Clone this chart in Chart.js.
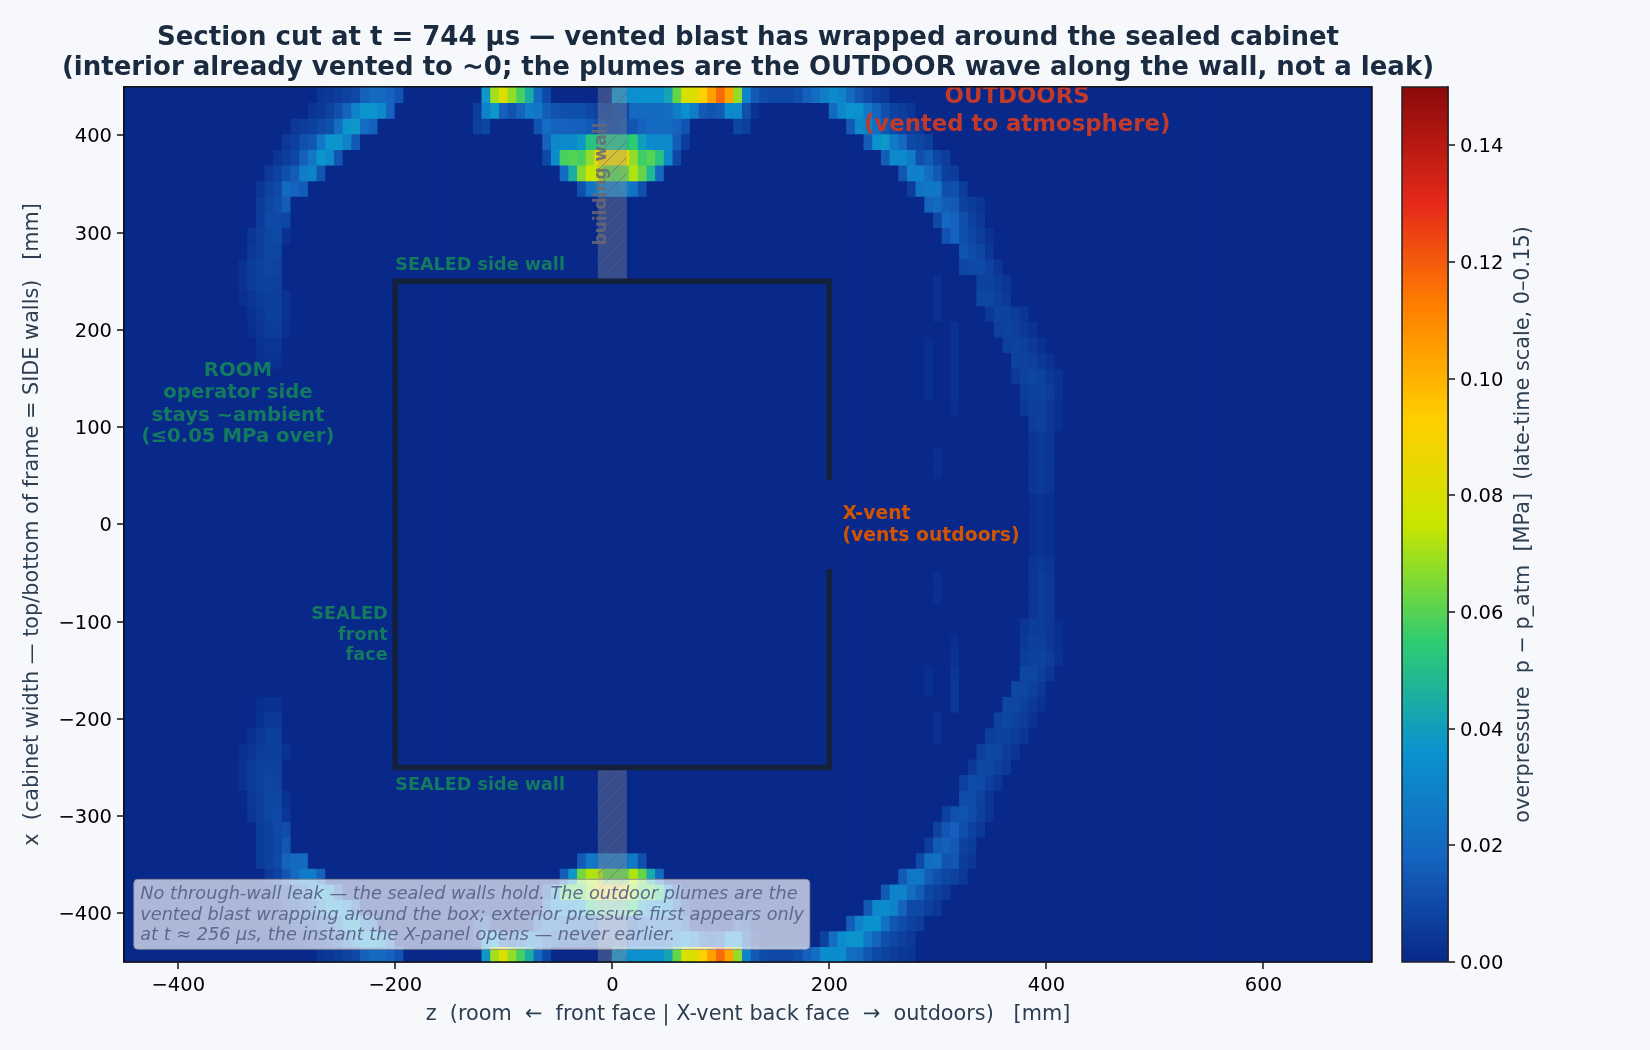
<!DOCTYPE html>
<html>
<head>
<meta charset="utf-8">
<title>Section cut at t = 744 µs</title>
<script src="https://cdn.jsdelivr.net/npm/chart.js@4"></script>
<style>
    html, body { margin: 0; padding: 0; background: #f6f8fc; }
    canvas { position: absolute; left: 0; top: 0; }
</style>
</head>
<body>
<canvas id="heatChart" width="1650" height="1050"></canvas>
<canvas id="barChart" width="1650" height="1050"></canvas>
<script>
// overpressure, in 0.001 MPa, one list per row from the top of the frame
// each part of a row is [first column, values...]; a column is 8 mm wide and column k starts at z = 8k
const row00 = [[-34, 4, 5, 6, 8, 10, 17, 20, 20, 18, 13], [-15, 38, 70, 82, 68, 58, 45, 20, 10], [0, 35, 35, 35, 36, 36, 36, 42, 62, 80, 82, 92, 105, 117, 104, 68, 30, 15, 11, 10, 10, 10, 12, 17, 22, 28, 33, 30, 20, 14, 10, 6, 5]];
const row01 = [[-35, 4, 5, 8, 12, 18, 30, 37, 37, 33, 18], [-16, 6, 30, 38, 17, 13, 18, 27, 25, 16, 13, 12, 12, 12, 9, 8, 8, 10, 10, 20, 20, 20, 20, 22, 28, 35, 28, 15, 13, 15, 33, 33, 12, 3], [25, 20, 32, 37, 36, 26, 18, 12, 8, 6, 4]];
const row02 = [[-37, 5, 6, 8, 10, 12, 22, 37, 38, 22, 18], [-16, 7, 9], [-9, 13, 22, 18, 18, 17, 17, 15, 11, 10, 10, 12, 14, 18, 20, 20, 20, 18, 13], [14, 9, 7], [27, 15, 32, 30, 22, 14, 10, 7, 6, 5]];
const row03 = [[-38, 5, 7, 12, 14, 26, 37, 37, 30, 15], [-8, 18, 32, 33, 33, 38, 52, 52, 50, 50, 50, 55, 40, 33, 33, 33, 16, 6], [29, 16, 36, 38, 27, 20, 10, 9, 7]];
const row04 = [[-39, 4, 6, 9, 17, 26, 37, 33, 14], [-8, 10, 34, 58, 60, 58, 68, 88, 90, 88, 88, 68, 57, 60, 52, 32, 10], [31, 16, 32, 33, 27, 12, 15, 9, 6]];
const row05 = [[-40, 5, 8, 12, 16, 28, 30, 14], [-6, 20, 45, 66, 76, 74, 62, 60, 62, 72, 62, 48, 20], [33, 14, 29, 29, 22, 15, 7, 6]];
const row06 = [[-41, 4, 8, 10, 20, 18, 16], [-4, 12, 24, 28, 26, 26, 28, 24, 12], [34, 6, 24, 25, 25, 12, 12, 6]];
const row07 = [[-41, 6, 9, 11, 16], [36, 18, 20, 16, 15, 8, 6, 4]];
const row08 = [[-41, 6, 10, 10, 9], [37, 10, 20, 18, 12, 8, 5]];
const row09 = [[-42, 4, 7, 9, 10, 3], [38, 13, 18, 12, 9, 6, 3]];
const row10 = [[-42, 5, 7, 9, 9], [40, 13, 11, 9, 4]];
const row11 = [[-43, 3, 6, 8, 9, 8], [40, 9, 10, 10, 8, 4]];
const row12 = [[-43, 3, 6, 8, 8, 7], [37, 3], [42, 8, 8, 6, 4]];
const row13 = [[-43, 2, 4, 6, 7, 7, 3], [37, 3], [42, 9, 9, 7, 5]];
const row14 = [[-42, 3, 5, 7, 7, 3], [37, 3], [43, 5, 8, 8, 6, 4]];
const row15 = [[-42, 2, 4, 6, 6, 2], [39, 3], [44, 7, 8, 7, 5, 3]];
const row16 = [[-41, 3, 4, 4], [36, 2], [39, 3], [45, 7, 8, 7, 5, 3]];
const row17 = [[-41, 2, 3, 3], [36, 2], [39, 3], [46, 8, 8, 7, 5, 3]];
const row18 = [[36, 2], [39, 3], [46, 5, 8, 9, 8, 5, 3]];
const row19 = [[36, 2], [39, 3], [47, 6, 8, 8, 6, 3]];
const row20 = [[39, 2], [47, 5, 7, 7, 5, 2]];
const row21 = [[48, 6, 7, 5, 2]];
const row22 = [[48, 4, 5, 4]];
const row23 = [[37, 2], [48, 4, 5, 4]];
const row24 = [[37, 2], [48, 4, 5, 4]];
const row25 = [[48, 4, 5, 4]];
const row26 = [[48, 2, 3, 2]];
const row27 = [[48, 2, 3, 2]];
const row28 = [[48, 2, 3, 2]];
const row29 = [[48, 2, 3, 2]];
const row30 = [[48, 4, 5, 4]];
const row31 = [[37, 2], [48, 4, 6, 5]];
const row32 = [[37, 2], [48, 4, 6, 5]];
const row33 = [[48, 4, 6, 5]];
const row34 = [[47, 4, 6, 6, 5, 2]];
const row35 = [[39, 2], [47, 5, 7, 7, 5, 2]];
const row36 = [[39, 3], [47, 6, 8, 8, 6, 3]];
const row37 = [[36, 2], [39, 4], [47, 9, 9, 7, 4]];
const row38 = [[36, 2], [39, 5], [46, 9, 9, 7, 5]];
const row39 = [[-41, 2, 3, 3], [39, 5], [45, 9, 9, 7, 5, 3]];
const row40 = [[-41, 3, 5, 5], [37, 3], [44, 8, 9, 8, 6, 3]];
const row41 = [[-42, 3, 5, 7, 7], [37, 3], [43, 7, 8, 8, 6, 4]];
const row42 = [[-43, 2, 4, 6, 7, 7, 3], [42, 7, 9, 9, 6, 4]];
const row43 = [[-43, 3, 6, 8, 8, 7], [41, 5, 9, 9, 7, 5]];
const row44 = [[-43, 3, 6, 8, 9, 8], [40, 7, 11, 10, 7, 4]];
const row45 = [[-42, 5, 7, 9, 9, 3], [40, 11, 11, 8, 4]];
const row46 = [[-42, 4, 7, 9, 10, 4], [38, 7, 12, 13, 11, 7, 4]];
const row47 = [[-41, 6, 8, 10, 11], [37, 8, 14, 17, 12, 8, 5]];
const row48 = [[-41, 6, 8, 9, 14], [36, 6, 15, 17, 15, 8, 6]];
const row49 = [[-41, 6, 8, 10, 18, 20, 20], [-4, 15, 26, 24, 24, 24, 24, 26, 12], [35, 10, 22, 23, 13, 14, 6, 4]];
const row50 = [[-40, 5, 8, 14, 20, 27, 27, 17], [-6, 16, 38, 64, 72, 72, 62, 62, 62, 72, 62, 44, 20], [33, 15, 25, 26, 16, 12, 9, 8, 5]];
const row51 = [[-39, 4, 6, 9, 17, 26, 37, 33, 14], [-8, 10, 34, 58, 60, 58, 68, 88, 90, 88, 88, 68, 57, 60, 52, 32, 10], [31, 15, 30, 30, 22, 16, 9, 7, 5]];
const row52 = [[-38, 5, 7, 12, 14, 26, 37, 37, 30, 15], [-8, 18, 32, 33, 33, 38, 52, 52, 50, 50, 50, 55, 40, 33, 33, 33, 16, 6], [29, 15, 32, 34, 30, 18, 10, 10, 7, 5]];
const row53 = [[-37, 5, 6, 8, 10, 12, 22, 37, 38, 22, 18], [-16, 7, 9], [-9, 13, 22, 18, 18, 17, 17, 15, 11, 10, 10, 12, 14, 18, 20, 20, 20, 18, 13], [14, 9, 7], [27, 16, 30, 36, 36, 24, 14, 11, 8, 6]];
const row54 = [[-35, 4, 5, 8, 12, 18, 30, 37, 37, 33, 18], [-16, 6, 30, 38, 17, 13, 18, 27, 25, 16, 13, 12, 12, 12, 9, 8, 8, 10, 10, 20, 20, 20, 20, 22, 28, 35, 28, 15, 13, 15, 33, 33, 12, 3], [24, 8, 22, 34, 37, 37, 26, 18, 12, 9, 7, 5]];
const row55 = [[-34, 4, 5, 6, 8, 10, 17, 20, 20, 18, 13], [-15, 38, 70, 82, 68, 58, 45, 20, 10], [0, 35, 35, 35, 36, 36, 36, 42, 62, 80, 82, 92, 105, 117, 104, 68, 30, 15, 11, 10, 10, 10, 12, 17, 22, 34, 34, 34, 22, 20, 14, 10, 8, 6, 5, 4]];

const rows = [
    row00, row01, row02, row03, row04, row05, row06, row07, row08, row09, row10, row11, row12, row13,
    row14, row15, row16, row17, row18, row19, row20, row21, row22, row23, row24, row25, row26, row27,
    row28, row29, row30, row31, row32, row33, row34, row35, row36, row37, row38, row39, row40, row41,
    row42, row43, row44, row45, row46, row47, row48, row49, row50, row51, row52, row53, row54, row55
];
const ambient = 0;

// cabinet outline with the vent gap on the back face, in mm
const cabinetZ = [200, 200, -200, -200, 200, 200];
const cabinetX = [46, 250, 250, -250, -250, -46];
const wallSpans = [[250, 450], [-450, -250]];

const zTicks = [-400, -200, 0, 200, 400, 600];
const xTicks = [-400, -300, -200, -100, 0, 100, 200, 300, 400];
const barTicks = [0, 0.02, 0.04, 0.06, 0.08, 0.10, 0.12, 0.14];

const colorStops = [
    [0, [8, 40, 138]], [0.0185, [21, 101, 192]], [0.0364, [10, 147, 207]], [0.055, [46, 204, 113]],
    [0.075, [200, 230, 0]], [0.093, [255, 208, 0]], [0.1125, [255, 128, 0]], [0.13, [230, 42, 26]],
    [0.15, [139, 10, 10]]
];

const FONT = '"DejaVu Sans"';
Chart.defaults.font.family = FONT;
Chart.defaults.font.size = 19.5;
Chart.defaults.color = '#000';

function colorFor(v) {
    for (let i = 1; i < colorStops.length; i++) {
        if (v <= colorStops[i][0]) {
            const [v0, c0] = colorStops[i - 1];
            const [v1, c1] = colorStops[i];
            const t = (v - v0) / (v1 - v0);
            return 'rgb(' + c0.map((c, j) => Math.round(c + (c1[j] - c) * t)).join(',') + ')';
        }
    }
    return 'rgb(139,10,10)';
}

function minusTick(value) {
    return value < 0 ? '\u2212' + Math.abs(value) : String(value);
}

function hatchPattern() {
    const tile = document.createElement('canvas');
    tile.width = 16;
    tile.height = 16;
    const c = tile.getContext('2d');
    c.fillStyle = 'rgba(150,150,150,0.34)';
    c.fillRect(0, 0, 16, 16);
    c.strokeStyle = 'rgba(95,95,95,0.5)';
    c.lineWidth = 1;
    c.beginPath();
    c.moveTo(-4, 20);
    c.lineTo(20, -4);
    c.moveTo(-4, 4);
    c.lineTo(4, -4);
    c.moveTo(12, 20);
    c.lineTo(20, 12);
    c.stroke();
    return c.createPattern(tile, 'repeat');
}

// one bar dataset per row, floating between the row's edges
const rowHeight = 900 / rows.length;
const heatDatasets = rows.map((row, r) => {
    const lookup = {};
    row.forEach(part => part.slice(1).forEach((v, i) => { lookup[part[0] + i] = v; }));
    const top = 450 - r * rowHeight;
    const cells = [];
    const colors = [];
    for (let k = -57; k <= 87; k++) {
        const v = lookup[k] === undefined ? ambient : lookup[k];
        cells.push({ x: 8 * k + 4, y: [top - rowHeight, top] });
        colors.push(colorFor(v / 1000));
    }
    return { type: 'bar', data: cells, backgroundColor: colors, barThickness: 8.68, inflateAmount: 0.6, order: 3, grouped: false };
});

const wallDataset = {
    type: 'bar',
    label: 'building wall',
    data: wallSpans.map(span => ({ x: 0, y: span })),
    backgroundColor: hatchPattern(),
    barThickness: 29,
    inflateAmount: 0,
    order: 2,
    grouped: false
};

const cabinetDataset = {
    type: 'line',
    label: 'cabinet',
    data: cabinetZ.map((z, i) => ({ x: z, y: cabinetX[i] })),
    borderColor: '#14213a',
    borderWidth: 5.5,
    borderJoinStyle: 'miter',
    borderCapStyle: 'butt',
    pointRadius: 0,
    tension: 0,
    order: 1
};

const GREEN = '#127a5e';
const labels = [
    { text: 'SEALED side wall', z: -200, x: 268, color: GREEN, size: 17.6, align: 'left' },
    { text: 'SEALED side wall', z: -200, x: -266, color: GREEN, size: 17.6, align: 'left' },
    { text: 'ROOM', z: -345, x: 160, color: GREEN, size: 19.7, align: 'center' },
    { text: 'operator side', z: -345, x: 137, color: GREEN, size: 19.7, align: 'center' },
    { text: 'stays ~ambient', z: -345, x: 114, color: GREEN, size: 19.7, align: 'center' },
    { text: '(\u22640.05 MPa over)', z: -345, x: 92, color: GREEN, size: 19.7, align: 'center' },
    { text: 'SEALED', z: -207, x: -90, color: GREEN, size: 17.7, align: 'right' },
    { text: 'front', z: -207, x: -112, color: GREEN, size: 17.7, align: 'right' },
    { text: 'face', z: -207, x: -133, color: GREEN, size: 17.7, align: 'right' },
    { text: 'OUTDOORS', z: 373, x: 441, color: '#c0392b', size: 22.8, align: 'center' },
    { text: '(vented to atmosphere)', z: 373, x: 413, color: '#c0392b', size: 22.8, align: 'center' },
    { text: 'X-vent', z: 212, x: 13, color: '#d35400', size: 18.8, align: 'left' },
    { text: '(vents outdoors)', z: 212, x: -10, color: '#d35400', size: 18.8, align: 'left' }
];
const noteLines = [
    'No through-wall leak \u2014 the sealed walls hold. The outdoor plumes are the',
    'vented blast wrapping around the box; exterior pressure first appears only',
    'at t \u2248 256 \u00b5s, the instant the X-panel opens \u2014 never earlier.'
];
const noteLineX = [-378, -400, -421];

const notesPlugin = {
    id: 'notes',
    afterLayout(chart) {
        // title is wider than the plot, keep it centred over the plot without squeezing
        chart.titleBlock.left = 60;
        chart.titleBlock.right = 1436;
    },
    beforeDatasetsDraw(chart) {
        const { ctx, chartArea } = chart;
        ctx.save();
        ctx.fillStyle = colorFor(ambient / 1000);
        ctx.fillRect(chartArea.left, chartArea.top, chartArea.right - chartArea.left, chartArea.bottom - chartArea.top);
        ctx.restore();
    },
    afterDatasetsDraw(chart) {
        const { ctx, scales, chartArea } = chart;
        const px = scales.x, py = scales.y;
        ctx.save();
        ctx.textBaseline = 'middle';
        labels.forEach(l => {
            ctx.font = 'bold ' + l.size + 'px ' + FONT;
            ctx.fillStyle = l.color;
            ctx.textAlign = l.align;
            ctx.fillText(l.text, px.getPixelForValue(l.z), py.getPixelForValue(l.x) + 2);
        });

        // wall label, rotated
        ctx.save();
        ctx.translate(px.getPixelForValue(-10), py.getPixelForValue(350));
        ctx.rotate(-Math.PI / 2);
        ctx.font = 'bold 17px ' + FONT;
        ctx.fillStyle = 'rgba(105,105,115,0.85)';
        ctx.textAlign = 'center';
        ctx.fillText('building wall', 0, 0);
        ctx.restore();

        // note box
        const left = px.getPixelForValue(-441), right = px.getPixelForValue(182);
        const top = py.getPixelForValue(-365), bottom = py.getPixelForValue(-437);
        ctx.beginPath();
        ctx.roundRect(left, top, right - left, bottom - top, 4);
        ctx.fillStyle = 'rgba(255,255,255,0.67)';
        ctx.fill();
        ctx.strokeStyle = 'rgba(130,130,140,0.8)';
        ctx.lineWidth = 1;
        ctx.stroke();
        ctx.font = 'italic 17.7px ' + FONT;
        ctx.fillStyle = '#5c6a8c';
        ctx.textAlign = 'left';
        noteLines.forEach((line, i) => {
            ctx.fillText(line, px.getPixelForValue(-435), py.getPixelForValue(noteLineX[i]) + 2);
        });

        // frame
        ctx.strokeStyle = '#111';
        ctx.lineWidth = 1.5;
        ctx.strokeRect(chartArea.left, chartArea.top, chartArea.right - chartArea.left, chartArea.bottom - chartArea.top);
        ctx.restore();
    }
};

new Chart(document.getElementById('heatChart'), {
    type: 'bar',
    data: { datasets: [...heatDatasets, wallDataset, cabinetDataset] },
    options: {
        responsive: false,
        animation: false,
        events: [],
        layout: { padding: { left: 20, right: 278, bottom: 23, top: 0 } },
        plugins: {
            legend: { display: false },
            tooltip: { enabled: false },
            title: {
                display: true,
                fullSize: false,
                text: [
                    'Section cut at t = 744 \u00b5s \u2014 vented blast has wrapped around the sealed cabinet',
                    '(interior already vented to ~0; the plumes are the OUTDOOR wave along the wall, not a leak)'
                ],
                color: '#1a2a3f',
                font: { size: 26, weight: 'bold', lineHeight: 1.15 },
                padding: { top: 23, bottom: 4 }
            }
        },
        scales: {
            x: {
                type: 'linear',
                min: -450,
                max: 700,
                offset: false,
                afterBuildTicks: axis => { axis.ticks = zTicks.map(value => ({ value })); },
                afterFit: axis => { axis.height = 65; },
                ticks: { callback: minusTick, maxRotation: 0, padding: 5 },
                grid: { offset: false, drawOnChartArea: false, drawTicks: true, tickLength: 7, lineWidth: 0, tickColor: '#111', tickWidth: 1.5 },
                border: { color: '#111', width: 1.5 },
                title: {
                    display: true,
                    text: 'z  (room  \u2190  front face | X-vent back face  \u2192  outdoors)   [mm]',
                    color: '#2c3e50',
                    font: { size: 20.8 },
                    padding: 0
                }
            },
            y: {
                type: 'linear',
                min: -450,
                max: 450,
                afterBuildTicks: axis => { axis.ticks = xTicks.map(value => ({ value })); },
                afterFit: axis => { axis.width = 104; },
                ticks: { callback: minusTick, padding: 5, labelOffset: 2 },
                grid: { drawOnChartArea: false, drawTicks: true, tickLength: 7, lineWidth: 0, tickColor: '#111', tickWidth: 1.5 },
                border: { color: '#111', width: 1.5 },
                title: {
                    display: true,
                    text: 'x  (cabinet width \u2014 top/bottom of frame = SIDE walls)   [mm]',
                    color: '#2c3e50',
                    font: { size: 20.8 },
                    padding: 0
                }
            }
        }
    },
    plugins: [notesPlugin]
});

// colour bar, second chart on the same page
const barSteps = [];
for (let i = 0; i < 300; i++) {
    barSteps.push(0.00025 + i * 0.0005);
}

const barLabelPlugin = {
    id: 'barLabel',
    afterDraw(chart) {
        const { ctx, chartArea } = chart;
        ctx.save();
        ctx.strokeStyle = '#222';
        ctx.lineWidth = 1.5;
        ctx.strokeRect(chartArea.left, chartArea.top, chartArea.right - chartArea.left, chartArea.bottom - chartArea.top);
        ctx.translate(1524, (chartArea.top + chartArea.bottom) / 2);
        ctx.rotate(-Math.PI / 2);
        ctx.font = '20.8px ' + FONT;
        ctx.fillStyle = '#2c3e50';
        ctx.textAlign = 'center';
        ctx.textBaseline = 'middle';
        ctx.fillText('overpressure  p \u2212 p_atm  [MPa]  (late-time scale, 0\u20130.15)', 0, 0);
        ctx.restore();
    }
};

new Chart(document.getElementById('barChart'), {
    type: 'bar',
    data: {
        datasets: [{
            data: barSteps.map(v => ({ x: 1, y: v })),
            backgroundColor: barSteps.map(colorFor),
            barPercentage: 1,
            categoryPercentage: 1,
            inflateAmount: 1
        }]
    },
    options: {
        indexAxis: 'y',
        responsive: false,
        animation: false,
        events: [],
        layout: { padding: { left: 1402, top: 87, bottom: 88, right: 100 } },
        plugins: { legend: { display: false }, tooltip: { enabled: false } },
        scales: {
            x: { type: 'linear', min: 0, max: 1, display: false },
            y: {
                type: 'linear',
                position: 'right',
                min: 0,
                max: 0.15,
                offset: false,
                afterBuildTicks: axis => { axis.ticks = barTicks.map(value => ({ value })); },
                afterFit: axis => { axis.width = 102; },
                ticks: { callback: value => value.toFixed(2), padding: 5, labelOffset: 2 },
                grid: { offset: false, drawOnChartArea: false, drawTicks: true, tickLength: 7, lineWidth: 0, tickColor: '#111', tickWidth: 1.5 },
                border: { color: '#222', width: 1.5 }
            }
        }
    },
    plugins: [barLabelPlugin]
});
</script>
</body>
</html>
